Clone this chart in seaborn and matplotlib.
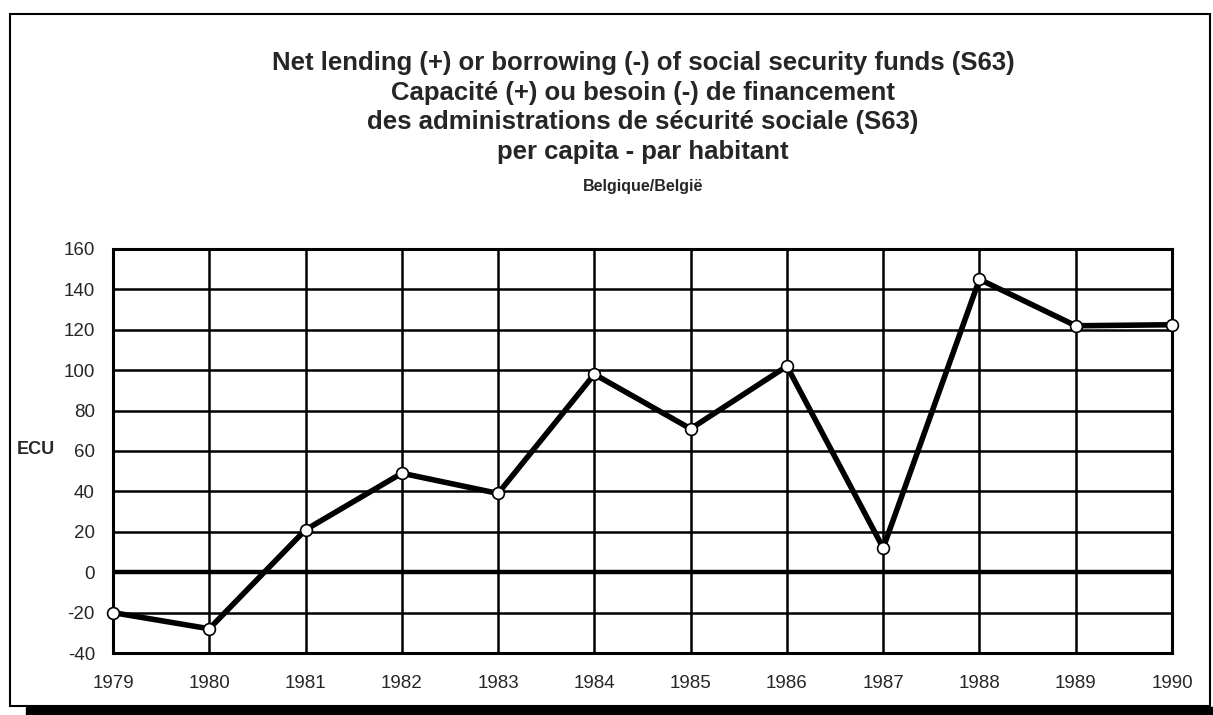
import numpy as np
import pandas as pd
import seaborn as sns
import matplotlib.pyplot as plt
from matplotlib.patches import Rectangle

# data
years = [1979, 1980, 1981, 1982, 1983, 1984, 1985, 1986, 1987, 1988, 1989, 1990]
ecu = [-20, -28, 21, 49, 39, 98, 71, 102, 12, 145, 122, 122.5]
title_lines = [
    "Net lending (+) or borrowing (-) of social security funds (S63)",
    "Capacité (+) ou besoin (-) de financement",
    "des administrations de sécurité sociale (S63)",
    "per capita - par habitant",
]
subtitle = "Belgique/België"
y_ticks = list(range(-40, 161, 20))

df = pd.DataFrame({"year": years, "ecu": ecu})

sns.set_style("white")
plt.rcParams["font.family"] = ["Liberation Sans", "DejaVu Sans"]

W, H = 1213, 715
fig = plt.figure(figsize=(W / 100, H / 100), dpi=100)
ax = fig.add_axes([113 / W, 1 - 653 / H, (1172 - 113) / W, (653 - 249) / H])

# grid
for y in y_ticks:
    ax.axhline(y, color="black", lw=3.2 if y == 0 else 1.8, zorder=1)
for x in years:
    ax.axvline(x, color="black", lw=1.8, zorder=1)

sns.lineplot(data=df, x="year", y="ecu", ax=ax, color="black", lw=4,
             marker="o", markersize=8.5, markerfacecolor="white",
             markeredgecolor="black", markeredgewidth=1.2, zorder=3, clip_on=False)

ax.set_xlim(1979, 1990)
ax.set_ylim(-40, 160)
ax.set_xticks(years)
ax.set_xticklabels([str(y) for y in years], fontsize=13.5)
ax.set_yticks(y_ticks)
ax.set_yticklabels([str(y) for y in y_ticks], fontsize=13.5)
ax.tick_params(axis="y", length=4, width=1.8, color="black", pad=9)
ax.tick_params(axis="x", length=0, pad=16)
ax.set_xlabel("")
ax.set_ylabel("")
for s in ax.spines.values():
    s.set_color("black")
    s.set_linewidth(2.2)

ax.text(17 / W, 1 - 450 / H, "ECU", transform=fig.transFigure, fontsize=13,
        fontweight="bold", ha="left", va="center")

# titles
cx = 643 / W
for i, line in enumerate(title_lines):
    fig.text(cx, 1 - (70 + i * 29.6) / H, line, ha="center", va="baseline",
             fontsize=18.5, fontweight="bold")
fig.text(cx, 1 - 191 / H, subtitle, ha="center", va="baseline",
         fontsize=11.5, fontweight="bold")

# frame and shadow
fig.patches.append(Rectangle((10 / W, 9 / H), 1200 / W, 692 / H,
                             transform=fig.transFigure, fill=False,
                             edgecolor="black", lw=1.5))
fig.patches.append(Rectangle((26 / W, 0), 1, 8 / H,
                             transform=fig.transFigure, color="black"))

fig.savefig("out.png", dpi=100)
